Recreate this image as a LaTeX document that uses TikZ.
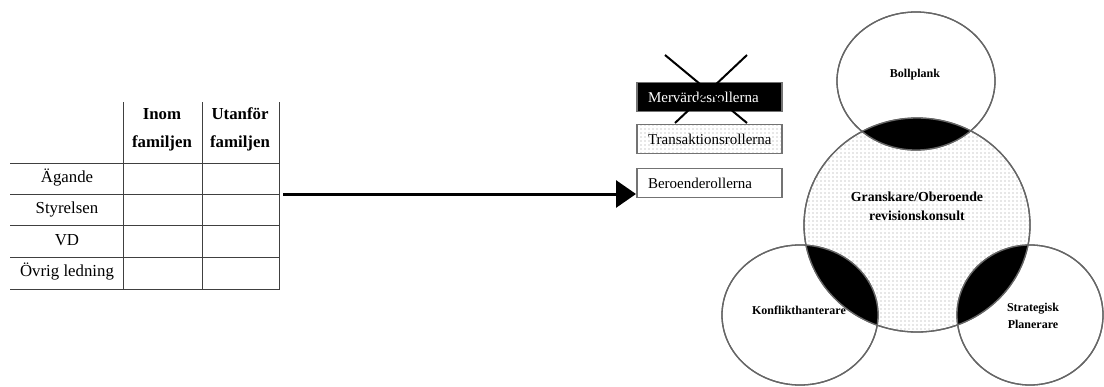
\documentclass[tikz,border=0pt]{standalone}
\usepackage{fontspec}
\setmainfont{Liberation Serif}
\usetikzlibrary{arrows.meta,patterns.meta,shapes.geometric}
\tikzdeclarepattern{
  name=sparsedots,
  type=uncolored,
  bottom left={(-1pt,-1pt)},
  top right={(3pt,3pt)},
  tile size={(4pt,4pt)},
  code={\fill (1pt,1pt) circle (0.65pt);}
}
\begin{document}
\begin{tikzpicture}[x=1pt,y=-1pt,
  tline/.style={draw=black!75, line width=1pt},
  cell/.style={font=\fontsize{16.8}{18}\selectfont, inner sep=0pt, anchor=center},
  hcell/.style={font=\fontsize{16.8}{18}\selectfont\bfseries, inner sep=0pt, anchor=center},
  rolebox/.style={draw=black!55, line width=1.3pt, minimum height=29pt, inner xsep=11pt, inner ysep=0pt, text width=123pt, align=left, font=\fontsize{15}{16}\selectfont},
  dotfill/.style={pattern=sparsedots, pattern color=black!40},
  venn/.style={ellipse, draw=black!60, line width=1.3pt, inner sep=0pt},
  vlabel/.style={font=\fontsize{12}{14}\selectfont\bfseries, align=center, inner sep=0pt},
  bigarrow/.style={line width=3pt, -{Triangle[length=20pt,width=27pt]}}
]
\useasboundingbox (0,0) rectangle (1104,386);

% ---------- table ----------
\draw[tline] (123,102) -- (123,289);
\draw[tline] (202,102) -- (202,289);
\draw[tline] (279,102) -- (279,289);
\foreach \yy in {163,194,225,257,289} \draw[tline] (10,\yy) -- (280,\yy);

\node[hcell] (h1a) at (162,114) {Inom};
\node[hcell] (h1b) at (162,143) {familjen};
\node[hcell] (h2a) at (240,114) {Utanför};
\node[hcell] (h2b) at (240,143) {familjen};
\node[cell] (r1) at (67,178) {Ägande};
\node[cell] (r2) at (67,209) {Styrelsen};
\node[cell] (r3) at (67,240) {VD};
\node[cell] (r4) at (67,272) {Övrig ledning};

% ---------- boxes ----------
\node[rolebox, fill=black, text=white] (mer) at (709.5,97) {Mervärdesrollerna};
\node[rolebox, dotfill] (tra) at (709.5,139) {Transaktionsrollerna};
\node[rolebox, fill=white] (ber) at (709.5,183) {Beroenderollerna};

% cross over the first box
\coordinate (xa) at (665,55);
\coordinate (xb) at (747,123);
\coordinate (xc) at (747,55);
\coordinate (xd) at (675,123);
\draw[line width=2pt, black] (xa) -- (xb);
\draw[line width=2pt, black] (xc) -- (xd);

% ---------- arrow ----------
\coordinate (tabR) at (283,194);
\coordinate (tip) at (636,194);
\draw[bigarrow] (tabR) -- (tip);

% ---------- Venn ----------
\node[venn, minimum width=226pt, minimum height=214pt, dotfill] (cen) at (917,225) {};
\node[venn, minimum width=158pt, minimum height=138pt] (top) at (916,81) {};
\node[venn, minimum width=156pt, minimum height=140pt] (lft) at (800,315) {};
\node[venn, minimum width=146pt, minimum height=140pt] (rgt) at (1030,315) {};

\begin{scope}
  \clip (cen.center) ellipse [x radius=113pt, y radius=107pt];
  \fill[black] (top.center) ellipse [x radius=79pt, y radius=69pt];
  \fill[black] (lft.center) ellipse [x radius=78pt, y radius=70pt];
  \fill[black] (rgt.center) ellipse [x radius=73pt, y radius=70pt];
\end{scope}
\draw[black!60, line width=1.3pt] (cen.center) ellipse [x radius=113pt, y radius=107pt];
\draw[black!60, line width=1.3pt] (top.center) ellipse [x radius=79pt, y radius=69pt];
\draw[black!60, line width=1.3pt] (lft.center) ellipse [x radius=78pt, y radius=70pt];
\draw[black!60, line width=1.3pt] (rgt.center) ellipse [x radius=73pt, y radius=70pt];

\node[vlabel] (lb1) at (915,75) {Bollplank};
\node[vlabel, font=\fontsize{13.8}{19}\selectfont\bfseries] (lb2) at (917,206) {Granskare/Oberoende\\revisionskonsult};
\node[vlabel] (lb3) at (799,310) {Konflikthanterare};
\node[vlabel, font=\fontsize{12}{17}\selectfont\bfseries] (lb4) at (1033,316) {Strategisk\\Planerare};
\end{tikzpicture}
\end{document}
